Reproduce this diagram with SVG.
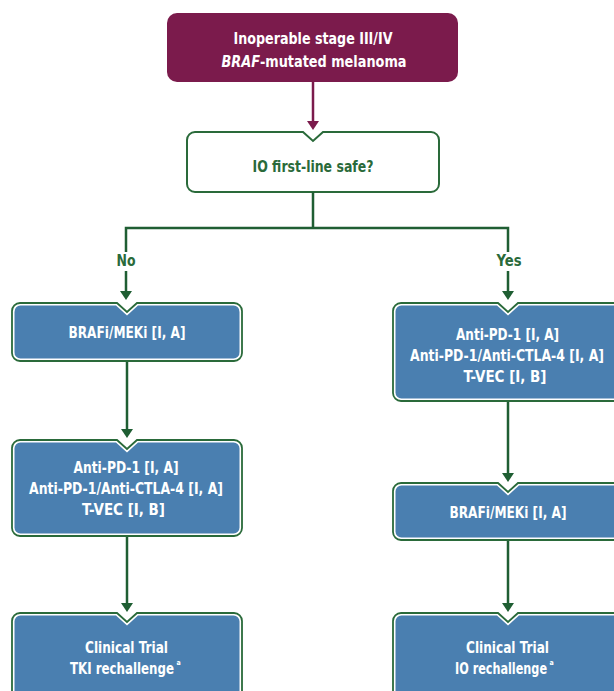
<svg xmlns="http://www.w3.org/2000/svg" width="614" height="691" viewBox="0 0 614 691">
  <style>
    text { font-family: "Liberation Sans Narrow", "DejaVu Sans Condensed", "Liberation Sans", sans-serif; font-weight: bold; }
    .w { fill: #ffffff; font-size: 15px; text-anchor: middle; }
    .wt { fill: #ffffff; font-size: 16px; text-anchor: middle; }
    .g { fill: #2a6a3a; font-size: 15px; text-anchor: middle; }
    .ws { fill: #ffffff; font-size: 15px; text-anchor: start; }
    .sup { fill: #ffffff; font-size: 7px; }
    .outer { fill: #ffffff; stroke: #2a6a3a; stroke-width: 1.8; }
    .inner { fill: #4a7fb0; }
    .q { fill: #ffffff; stroke: #2a6a3a; stroke-width: 2; }
    .line { fill: none; stroke: #1f5e33; stroke-width: 2.5; }
    .head { fill: #1f5e33; }
  </style>

  <g id="start">
    <rect x="167" y="13" width="291" height="69" rx="10" fill="#7b1b4c"/>
    <text class="wt" x="313" y="44" textLength="159" lengthAdjust="spacingAndGlyphs">Inoperable stage III/IV</text>
    <text class="wt" x="314" y="67" textLength="185" lengthAdjust="spacingAndGlyphs"><tspan font-style="italic">BRAF</tspan>-mutated melanoma</text>
  </g>

  <g id="question">
    <path class="q" d="M195,132 H303 L313,141 L323,132 H431 A8,8 0 0 1 439,140 V184 A8,8 0 0 1 431,192 H195 A8,8 0 0 1 187,184 V140 A8,8 0 0 1 195,132 Z"/>
    <text class="g" x="313" y="171.5" textLength="121" lengthAdjust="spacingAndGlyphs">IO first-line safe?</text>
  </g>

  <g id="connectors">
    <line x1="313" y1="82" x2="313" y2="123" stroke="#7b1b4c" stroke-width="2.5"/>
    <polygon points="307,121 319,121 313,130" fill="#7b1b4c"/>
    <path class="line" d="M313,192 V228 M126,252 V228 H508 V252"/>
    <path class="line" d="M126,271 V293 M508,271 V293"/>
    <polygon class="head" points="120,291 132,291 126,300"/>
    <polygon class="head" points="502,291 514,291 508,300"/>
    <path class="line" d="M127,361 V431"/>
    <polygon class="head" points="121,429 133,429 127,438"/>
    <path class="line" d="M127,536 V605"/>
    <polygon class="head" points="121,603 133,603 127,612"/>
    <path class="line" d="M508,401 V475"/>
    <polygon class="head" points="502,473 514,473 508,482"/>
    <path class="line" d="M508,540 V605"/>
    <polygon class="head" points="502,603 514,603 508,612"/>
    <text class="g" x="126" y="265.5" textLength="19" lengthAdjust="spacingAndGlyphs">No</text>
    <text class="g" x="509" y="265.5" textLength="25" lengthAdjust="spacingAndGlyphs">Yes</text>
  </g>

  <g id="left1">
    <path class="outer" d="M20,303 H117 L127,312 L137,303 H234 A8,8 0 0 1 242,311 V353 A8,8 0 0 1 234,361 H20 A8,8 0 0 1 12,353 V311 A8,8 0 0 1 20,303 Z"/>
    <path class="inner" d="M21,305.5 H116 L127,315.5 L138,305.5 H233 A6,6 0 0 1 239.5,312 V352 A6,6 0 0 1 233,358.5 H21 A6,6 0 0 1 14.5,352 V312 A6,6 0 0 1 21,305.5 Z"/>
    <text class="w" x="127" y="337.5" textLength="117" lengthAdjust="spacingAndGlyphs">BRAFi/MEKi [I, A]</text>
  </g>

  <g id="left2">
    <path class="outer" d="M20,440 H117 L127,449 L137,440 H234 A8,8 0 0 1 242,448 V528 A8,8 0 0 1 234,536 H20 A8,8 0 0 1 12,528 V448 A8,8 0 0 1 20,440 Z"/>
    <path class="inner" d="M21,442.5 H116 L127,452.5 L138,442.5 H233 A6,6 0 0 1 239.5,449 V527 A6,6 0 0 1 233,533.5 H21 A6,6 0 0 1 14.5,527 V449 A6,6 0 0 1 21,442.5 Z"/>
    <text class="w" x="126" y="472.5" textLength="105" lengthAdjust="spacingAndGlyphs">Anti-PD-1 [I, A]</text>
    <text class="w" x="126" y="493.5" textLength="194" lengthAdjust="spacingAndGlyphs">Anti-PD-1/Anti-CTLA-4 [I, A]</text>
    <text class="w" x="123.5" y="514.5" textLength="83" lengthAdjust="spacingAndGlyphs">T-VEC [I, B]</text>
  </g>

  <g id="left3">
    <path class="outer" d="M20,613 H117 L127,622 L137,613 H234 A8,8 0 0 1 242,621 V705 H12 V621 A8,8 0 0 1 20,613 Z"/>
    <path class="inner" d="M21,615.5 H116 L127,625.5 L138,615.5 H233 A6,6 0 0 1 239.5,622 V705 H14.5 V622 A6,6 0 0 1 21,615.5 Z"/>
    <text class="w" x="126.5" y="652.5" textLength="83" lengthAdjust="spacingAndGlyphs">Clinical Trial</text>
    <text class="ws" x="70" y="673.5" textLength="104" lengthAdjust="spacingAndGlyphs">TKI rechallenge</text>
    <text class="sup" x="176.5" y="665">a</text>
  </g>

  <g id="right1">
    <path class="outer" d="M401,303 H498 L508,312 L518,303 H615 A8,8 0 0 1 623,311 V393 A8,8 0 0 1 615,401 H401 A8,8 0 0 1 393,393 V311 A8,8 0 0 1 401,303 Z"/>
    <path class="inner" d="M402,305.5 H497 L508,315.5 L519,305.5 H614 A6,6 0 0 1 620.5,312 V392 A6,6 0 0 1 614,398.5 H402 A6,6 0 0 1 395.5,392 V312 A6,6 0 0 1 402,305.5 Z"/>
    <text class="w" x="507.5" y="339.5" textLength="103" lengthAdjust="spacingAndGlyphs">Anti-PD-1 [I, A]</text>
    <text class="w" x="507" y="360.5" textLength="194" lengthAdjust="spacingAndGlyphs">Anti-PD-1/Anti-CTLA-4 [I, A]</text>
    <text class="w" x="505" y="381.5" textLength="83" lengthAdjust="spacingAndGlyphs">T-VEC [I, B]</text>
  </g>

  <g id="right2">
    <path class="outer" d="M401,483 H498 L508,492 L518,483 H615 A8,8 0 0 1 623,491 V532 A8,8 0 0 1 615,540 H401 A8,8 0 0 1 393,532 V491 A8,8 0 0 1 401,483 Z"/>
    <path class="inner" d="M402,485.5 H497 L508,495.5 L519,485.5 H614 A6,6 0 0 1 620.5,492 V531 A6,6 0 0 1 614,537.5 H402 A6,6 0 0 1 395.5,531 V492 A6,6 0 0 1 402,485.5 Z"/>
    <text class="w" x="508" y="518" textLength="117" lengthAdjust="spacingAndGlyphs">BRAFi/MEKi [I, A]</text>
  </g>

  <g id="right3">
    <path class="outer" d="M401,613 H498 L508,622 L518,613 H615 A8,8 0 0 1 623,621 V705 H393 V621 A8,8 0 0 1 401,613 Z"/>
    <path class="inner" d="M402,615.5 H497 L508,625.5 L519,615.5 H614 A6,6 0 0 1 620.5,622 V705 H395.5 V622 A6,6 0 0 1 402,615.5 Z"/>
    <text class="w" x="507.5" y="652.5" textLength="83" lengthAdjust="spacingAndGlyphs">Clinical Trial</text>
    <text class="ws" x="455" y="673.5" textLength="92" lengthAdjust="spacingAndGlyphs">IO rechallenge</text>
    <text class="sup" x="549.5" y="665">a</text>
  </g>
</svg>
